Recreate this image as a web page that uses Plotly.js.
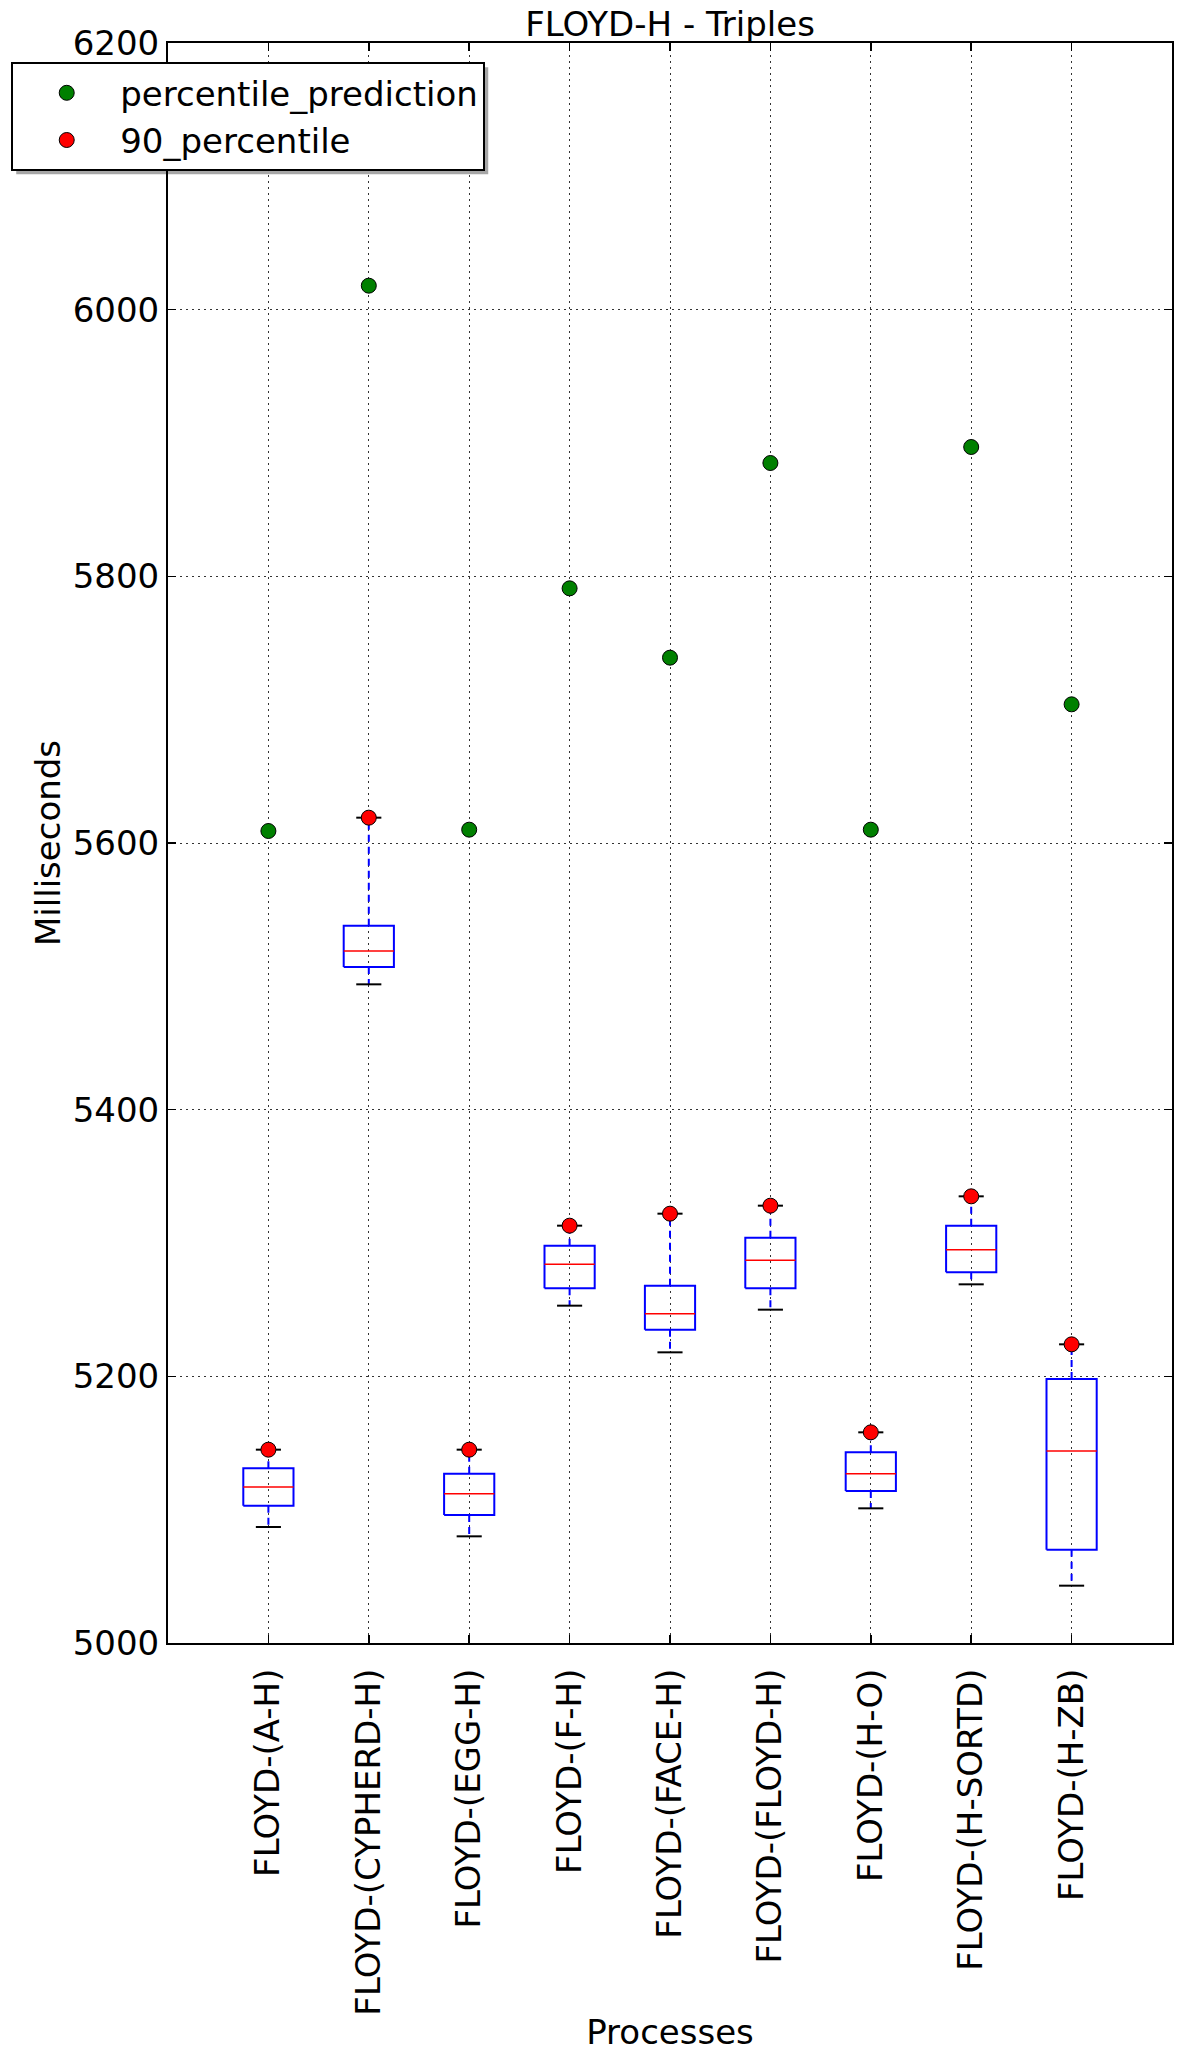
<!DOCTYPE html>
<html>
<head>
<meta charset="utf-8">
<script src="https://cdn.plot.ly/plotly-3.0.1.min.js"></script>
<style>html,body{margin:0;padding:0;background:#fff;}#chart{width:1184px;height:2058px;}</style>
</head>
<body>
<div id="chart"></div>
<script>
// ---- data ----
const categories = ['FLOYD-(A-H)', 'FLOYD-(CYPHERD-H)', 'FLOYD-(EGG-H)', 'FLOYD-(F-H)', 'FLOYD-(FACE-H)', 'FLOYD-(FLOYD-H)', 'FLOYD-(H-O)', 'FLOYD-(H-SORTD)', 'FLOYD-(H-ZB)'];
const whiskerLow  = [5087, 5494, 5080, 5253, 5218, 5250, 5101, 5269, 5043];
const q1          = [5103, 5507, 5096, 5266, 5235, 5266, 5114, 5278, 5070];
const median      = [5117, 5519, 5112, 5284, 5247, 5287, 5127, 5295, 5144];
const q3          = [5131, 5538, 5127, 5298, 5268, 5304, 5143, 5313, 5198];
const whiskerHigh = [5145, 5619, 5145, 5313, 5322, 5328, 5158, 5335, 5224];
const percentile90 = [5145, 5619, 5145, 5313, 5322, 5328, 5158, 5335, 5224];
const percentilePrediction = [5609, 6018, 5610, 5791, 5739, 5885, 5610, 5897, 5704];
const yTicks = [5000, 5200, 5400, 5600, 5800, 6000, 6200];

// ---- build traces ----
const pos = categories.map((c, i) => i + 1);
const halfBox = 0.25, halfCap = 0.125;
const FONT = 'DejaVu Sans, Verdana, sans-serif';

const boxX = [], boxY = [], medX = [], medY = [], whX = [], whY = [], capX = [], capY = [];
pos.forEach((p, i) => {
  boxX.push(p - halfBox, p + halfBox, p + halfBox, p - halfBox, p - halfBox, null);
  boxY.push(q1[i], q1[i], q3[i], q3[i], q1[i], null);
  medX.push(p - halfBox, p + halfBox, null);
  medY.push(median[i], median[i], null);
  whX.push(p, p, null, p, p, null);
  whY.push(q3[i], whiskerHigh[i], null, q1[i], whiskerLow[i], null);
  capX.push(p - halfCap, p + halfCap, null, p - halfCap, p + halfCap, null);
  capY.push(whiskerHigh[i], whiskerHigh[i], null, whiskerLow[i], whiskerLow[i], null);
});

const traces = [
  {x: whX, y: whY, mode: 'lines', line: {color: '#0000ff', width: 2, dash: '7px,5px'}, showlegend: false, hoverinfo: 'skip'},
  {x: boxX, y: boxY, mode: 'lines', line: {color: '#0000ff', width: 2}, showlegend: false, hoverinfo: 'skip'},
  {x: medX, y: medY, mode: 'lines', line: {color: '#ff0000', width: 1.5}, showlegend: false, hoverinfo: 'skip'},
  {x: capX, y: capY, mode: 'lines', line: {color: '#000000', width: 2}, showlegend: false, hoverinfo: 'skip'},
  {x: pos, y: percentilePrediction, mode: 'markers', name: 'percentile_prediction',
   marker: {color: '#008000', size: 15, line: {color: '#000', width: 1}}},
  {x: pos, y: percentile90, mode: 'markers', name: '90_percentile',
   marker: {color: '#ff0000', size: 15, line: {color: '#000', width: 1}}}
];

const layout = {
  width: 1184, height: 2058,
  margin: {l: 167, r: 12, t: 43, b: 415},
  paper_bgcolor: '#ffffff', plot_bgcolor: '#ffffff',
  font: {family: FONT, size: 34, color: '#000'},
  title: {text: 'FLOYD-H - Triples', font: {family: FONT, size: 34, color: '#000'},
          x: 0.5, xref: 'paper', y: 1, yref: 'paper', yanchor: 'bottom', pad: {b: 7}},
  xaxis: {
    range: [0, 10], tickmode: 'array', tickvals: pos, ticktext: categories,
    tickangle: -90, ticks: 'inside', ticklen: 8, tickwidth: 1.5, tickcolor: '#000',
    showline: true, linecolor: '#000', linewidth: 2, mirror: 'ticks',
    showgrid: true, gridcolor: '#333', gridwidth: 1, griddash: '2px,4px',
    zeroline: false, ticklabelstandoff: 10,
    tickfont: {family: FONT, size: 34, color: '#000'},
    title: {text: 'Processes', font: {family: FONT, size: 34, color: '#000'}, standoff: 6}
  },
  yaxis: {
    range: [5000, 6200], tickmode: 'array', tickvals: yTicks,
    ticks: 'inside', ticklen: 8, tickwidth: 1.5, tickcolor: '#000',
    showline: true, linecolor: '#000', linewidth: 2, mirror: 'ticks',
    showgrid: true, gridcolor: '#333', gridwidth: 1, griddash: '2px,4px',
    zeroline: false, ticklabelstandoff: 0,
    tickfont: {family: FONT, size: 34, color: '#000'},
    title: {text: 'Milliseconds', font: {family: FONT, size: 34, color: '#000'}, standoff: 2}
  },
  showlegend: true,
  legend: {
    x: -0.155, xanchor: 'left', y: 0.988, yanchor: 'top',
    bgcolor: '#ffffff', bordercolor: '#000', borderwidth: 2,
    font: {family: FONT, size: 34, color: '#000'},
    itemwidth: 97, tracegroupgap: 0
  }
};

const gd = document.getElementById('chart');
Plotly.newPlot(gd, traces, layout, {displayModeBar: false, staticPlot: true}).then(() => {
  // soft drop shadow behind the legend box, as in the original
  const bg = gd.querySelector('.legend .bg');
  if (!bg) return;
  const r = bg.getBoundingClientRect();
  const fl = gd._fullLayout, sz = fl._size;
  const toPx = (px) => (px - sz.l) / sz.w;
  const toPy = (py) => 1 - (py - sz.t) / sz.h;
  const off = 4;
  Plotly.relayout(gd, {shapes: [{
    type: 'rect', xref: 'paper', yref: 'paper', layer: 'above',
    x0: toPx(r.left + off), x1: toPx(r.right + off),
    y0: toPy(r.bottom + off), y1: toPy(r.top + off),
    fillcolor: 'rgba(0,0,0,0.35)', line: {width: 0}
  }]});
});
</script>
</body>
</html>
